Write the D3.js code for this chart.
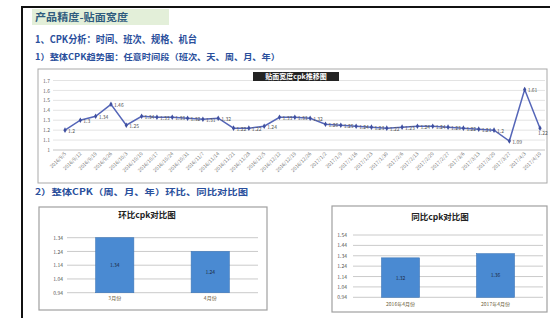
<!DOCTYPE html>
<html><head><meta charset="utf-8">
<script src="https://cdn.jsdelivr.net/npm/d3@7"></script>
<style>
body{margin:0;background:#fff}
svg{display:block}
text{font-family:"Noto Sans CJK SC","Noto Sans",sans-serif}
</style>
</head><body>
<svg id="c" width="550" height="318"></svg>
<script>
// ---------- data ----------
const headerTitle = "产品精度-贴面宽度";
const heading1 = "1、CPK分析：时间、班次、规格、机台";
const heading2 = "1）整体CPK趋势图：任意时间段（班次、天、周、月、年）";
const heading3 = "2）整体CPK（周、月、年）环比、同比对比图";

const trendTitle = "贴面宽度cpk推移图";
const trendDates = ["2016/9/5","2016/9/12","2016/9/19","2016/9/26","2016/10/3","2016/10/10","2016/10/17","2016/10/24",
  "2016/10/31","2016/11/7","2016/11/14","2016/11/21","2016/11/28","2016/12/5","2016/12/12","2016/12/19",
  "2016/12/26","2017/1/2","2017/1/9","2017/1/16","2017/1/23","2017/1/30","2017/2/6","2017/2/13",
  "2017/2/20","2017/2/27","2017/3/6","2017/3/13","2017/3/20","2017/3/27","2017/4/3","2017/4/10"];
const trendCpk = [1.20,1.30,1.34,1.46,1.25,1.34,1.33,1.33,1.32,1.31,1.32,1.22,1.22,1.24,1.33,1.33,
  1.32,1.26,1.25,1.24,1.23,1.22,1.23,1.24,1.24,1.23,1.22,1.21,1.20,1.09,1.61,1.22];
const trendTicks = [1,1.1,1.2,1.3,1.4,1.5,1.6,1.7];

const momTitle = "环比cpk对比图";
const momCats = ["3月份","4月份"];
const momCpk = [1.34,1.24];
const momTicks = [0.94,1.04,1.14,1.24,1.34];

const yoyTitle = "同比cpk对比图";
const yoyCats = ["2016年4月份","2017年4月份"];
const yoyCpk = [1.32,1.36];
const yoyTicks = [0.94,1.04,1.14,1.24,1.34,1.44,1.54];

// ---------- page frame ----------
const svg = d3.select("#c");
svg.append("line").attr("x1",22).attr("x2",550).attr("y1",7).attr("y2",7).attr("stroke","#111").attr("stroke-width",2);
svg.append("line").attr("x1",22).attr("x2",22).attr("y1",6).attr("y2",318).attr("stroke","#111").attr("stroke-width",2);

svg.append("rect").attr("x",32).attr("y",9).attr("width",137).attr("height",16).attr("fill","#e3efd9");
function heading(txt,x,y,size,len,color){
  svg.append("text").attr("x",x).attr("y",y).attr("font-size",size).attr("font-weight","bold")
    .attr("fill",color).attr("textLength",len).attr("lengthAdjust","spacingAndGlyphs").text(txt);
}
heading(headerTitle,35,21,10,93,"#2f5c7e");
heading(heading1,35,43,10,162,"#2a4f9c");
heading(heading2,35,60,8.5,245,"#2a4f9c");
heading(heading3,35,195,8.5,213,"#2a4f9c");

// ---------- trend line chart ----------
const tBox = {x:38,y:69,w:509,h:114};
svg.append("rect").attr("x",tBox.x).attr("y",tBox.y).attr("width",tBox.w).attr("height",tBox.h)
  .attr("fill","#fff").attr("stroke","#a9a9a9").attr("stroke-width",1);
const ty = d3.scaleLinear().domain([1,1.7]).range([150,80.5]);
const tx = d3.scalePoint().domain(trendDates).range([65,540]);
const tg = svg.append("g");
tg.selectAll("line.g").data(trendTicks).join("line")
  .attr("x1",53).attr("x2",545).attr("y1",d=>ty(d)).attr("y2",d=>ty(d))
  .attr("stroke",d=>d===1?"#b5b5b5":"#dcdcdc").attr("stroke-width",0.8);
const yAx = d3.axisLeft(ty).tickValues(trendTicks).tickSize(0).tickPadding(3).tickFormat(d3.format("~g"));
svg.append("g").attr("transform","translate(53,0)").call(yAx)
  .call(g=>g.select(".domain").remove())
  .selectAll("text").attr("font-size",5).attr("fill","#666");
const xAx = d3.axisBottom(tx).tickSize(0).tickPadding(0);
svg.append("g").attr("transform","translate(0,153)").call(xAx)
  .call(g=>g.select(".domain").remove())
  .selectAll("text").attr("font-size",5).attr("fill","#777")
  .attr("text-anchor","end").attr("dy","0.3em").attr("transform","rotate(-45)");
const line = d3.line().x((d,i)=>tx(trendDates[i])).y(d=>ty(d));
svg.append("path").datum(trendCpk).attr("d",line).attr("fill","none").attr("stroke","#5566b8").attr("stroke-width",1.5);
svg.selectAll("path.m").data(trendCpk).join("path").attr("class","m")
  .attr("d",d3.symbol(d3.symbolDiamond,9))
  .attr("transform",(d,i)=>`translate(${tx(trendDates[i])},${ty(d)})`).attr("fill","#3f4f9f");
const last = trendCpk.length-1;
svg.selectAll("text.pl").data(trendCpk).join("text").attr("class","pl")
  .attr("x",(d,i)=>tx(trendDates[i])+(i===last?-2:3)).attr("y",(d,i)=>ty(d)+(i===last?7:3))
  .attr("text-anchor",(d,i)=>i===last?"start":"start")
  .attr("font-size",5).attr("fill","#555").text(d=>d3.format("~g")(d));
svg.append("rect").attr("x",253).attr("y",72).attr("width",86).attr("height",9).attr("fill","#232323");
svg.append("text").attr("x",296).attr("y",79.3).attr("text-anchor","middle").attr("font-size",7)
  .attr("font-weight","bold").attr("fill","#fff").text(trendTitle);

// ---------- bar charts ----------
function barChart(o){
  svg.append("rect").attr("x",o.box.x).attr("y",o.box.y).attr("width",o.box.w).attr("height",o.box.h)
    .attr("fill","#fff").attr("stroke","#a0a0a0").attr("stroke-width",1.2);
  svg.append("text").attr("x",o.titleX).attr("y",o.titleY).attr("text-anchor","middle")
    .attr("font-size",8.5).attr("font-weight","bold").attr("fill","#222").text(o.title);
  const y = d3.scaleLinear().domain([o.ticks[0],o.ticks[o.ticks.length-1]]).range(o.yr);
  const x = d3.scaleBand().domain(o.cats).range(o.xr).paddingInner(0.6).paddingOuter(0.3);
  svg.append("g").selectAll("line").data(o.ticks).join("line")
    .attr("x1",o.xr[0]).attr("x2",o.xr[1]).attr("y1",d=>y(d)).attr("y2",d=>y(d))
    .attr("stroke","#c4c4c4").attr("stroke-width",0.9);
  svg.append("g").attr("transform",`translate(${o.labelX},0)`)
    .call(d3.axisLeft(y).tickValues(o.ticks).tickSize(0).tickPadding(0).tickFormat(d3.format(".2f")))
    .call(g=>g.select(".domain").remove())
    .selectAll("text").attr("font-size",5).attr("fill","#555");
  svg.selectAll(null).data(o.vals).join("rect")
    .attr("x",(d,i)=>x(o.cats[i])).attr("width",x.bandwidth())
    .attr("y",d=>y(d)).attr("height",d=>y(o.ticks[0])-y(d))
    .attr("fill","#4a8ad2").attr("stroke","#3c76b8").attr("stroke-width",0.6);
  svg.selectAll(null).data(o.vals).join("text")
    .attr("x",(d,i)=>x(o.cats[i])+x.bandwidth()/2).attr("y",d=>(y(d)+y(o.ticks[0]))/2+2)
    .attr("text-anchor","middle").attr("font-size",5).attr("fill","#1d2a44").text(d=>d3.format(".2f")(d));
  svg.append("g").attr("transform",`translate(0,${o.catY})`)
    .call(d3.axisBottom(x).tickSize(0).tickPadding(0))
    .call(g=>g.select(".domain").remove())
    .selectAll("text").attr("font-size",5).attr("fill","#6b5a3a");
}
barChart({box:{x:39,y:207,w:228,h:103},title:momTitle,titleX:147,titleY:218,
  ticks:momTicks,yr:[292.7,237.7],cats:momCats,vals:momCpk,xr:[67,258],labelX:63,catY:296});
barChart({box:{x:332,y:206,w:215,h:106},title:yoyTitle,titleX:440,titleY:220,
  ticks:yoyTicks,yr:[297.3,235],cats:yoyCats,vals:yoyCpk,xr:[353,543],labelX:347,catY:302});
</script>
</body></html>
